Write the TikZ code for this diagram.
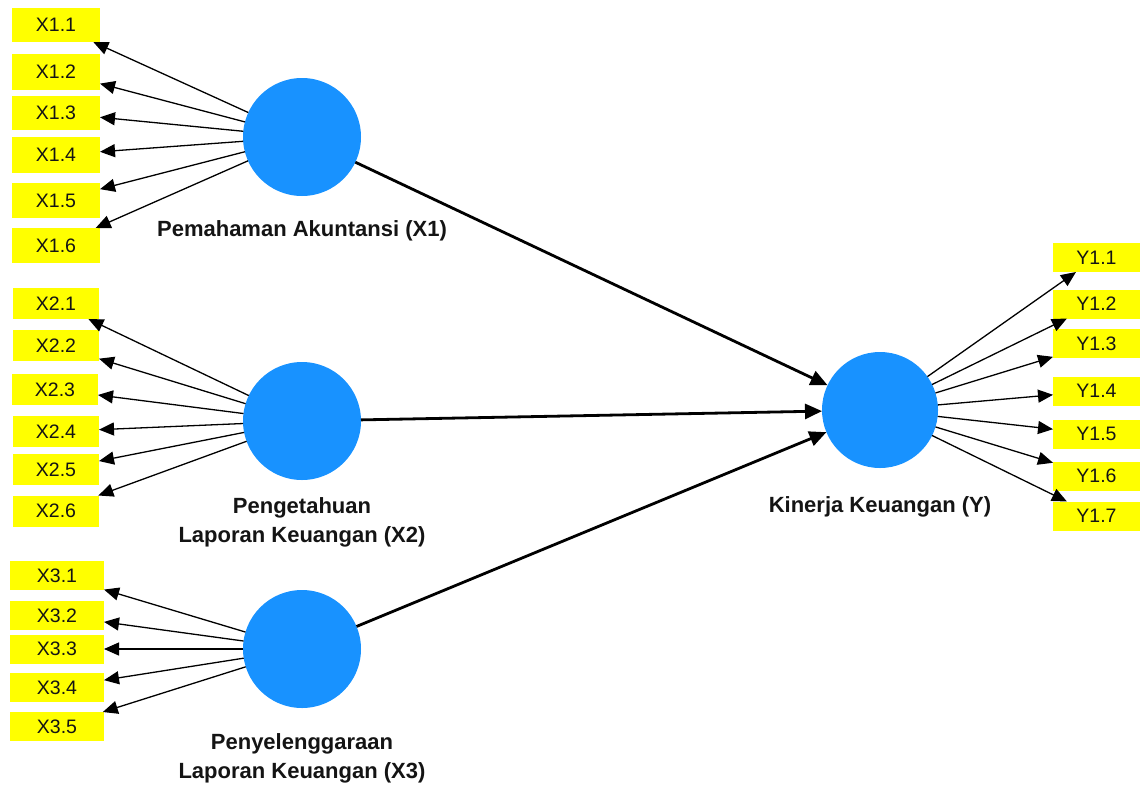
\documentclass[tikz,border=0pt]{standalone}
\usepackage{fontspec}
\setmainfont{Liberation Sans}
\usetikzlibrary{arrows.meta}
\definecolor{latentblue}{RGB}{24,146,255}
\definecolor{itemyellow}{RGB}{255,255,0}
\definecolor{inktext}{RGB}{20,20,20}
\begin{document}
\begin{tikzpicture}[x=1pt,y=-1pt,
  latentnode/.style={circle, fill=latentblue, minimum size=118pt, inner sep=0pt, outer sep=0pt},
  itembox/.style={rectangle, fill=itemyellow, inner sep=0pt, outer sep=0pt,
    text=inktext, font=\fontsize{19.5}{22}\selectfont},
  xbox/.style={itembox, minimum width=88pt},
  loading/.style={draw=black, line width=1.3pt, -{Triangle[length=15pt,width=13pt]}},
  structural/.style={draw=black, line width=2.8pt, -{Triangle[length=17pt,width=15pt]}},
  lbl/.style={font=\bfseries\fontsize{22}{29}\selectfont, align=center, text=inktext, inner sep=0pt}
]
\useasboundingbox[fill=white] (0,0) rectangle (1140,785);

% latent constructs
\node[latentnode] (X1) at (302,137) {};
\node[latentnode] (X2) at (302,421) {};
\node[latentnode] (X3) at (302,649) {};
\node[latentnode, minimum size=116pt] (Y) at (880,410) {};

% construct labels
\node[lbl, anchor=base] (lX1) at (302,236) {Pemahaman Akuntansi (X1)};
\node[lbl] (lX2) at (302,522) {Pengetahuan\\Laporan Keuangan (X2)};
\node[lbl] (lX3) at (302,758) {Penyelenggaraan\\Laporan Keuangan (X3)};
\node[lbl, anchor=base] (lY) at (880,512) {Kinerja Keuangan (Y)};

% indicators of X1
\node[xbox, minimum height=34pt] (x11) at (56,25) {X1.1};
\node[xbox, minimum height=36pt] (x12) at (56,72) {X1.2};
\node[xbox, minimum height=34pt] (x13) at (56,113) {X1.3};
\node[xbox, minimum height=36pt] (x14) at (56,155) {X1.4};
\node[xbox, minimum height=35pt] (x15) at (56,200.5) {X1.5};
\node[xbox, minimum height=35pt] (x16) at (56,245.5) {X1.6};

% indicators of X2
\node[itembox, minimum width=86pt, minimum height=31pt] (x21) at (56,303.5) {X2.1};
\node[itembox, minimum width=86pt, minimum height=31pt] (x22) at (56,345.5) {X2.2};
\node[itembox, minimum width=86pt, minimum height=31pt] (x23) at (55,389.5) {X2.3};
\node[itembox, minimum width=86pt, minimum height=31pt] (x24) at (56,431.5) {X2.4};
\node[itembox, minimum width=86pt, minimum height=31pt] (x25) at (56,469.5) {X2.5};
\node[itembox, minimum width=86pt, minimum height=31pt] (x26) at (56,511) {X2.6};

% indicators of X3
\node[itembox, minimum width=94pt, minimum height=29pt] (x31) at (57,575.5) {X3.1};
\node[itembox, minimum width=94pt, minimum height=29pt] (x32) at (57,615.5) {X3.2};
\node[itembox, minimum width=94pt, minimum height=29pt] (x33) at (57,649) {X3.3};
\node[itembox, minimum width=94pt, minimum height=29pt] (x34) at (57,687.5) {X3.4};
\node[itembox, minimum width=94pt, minimum height=29pt] (x35) at (57,726.5) {X3.5};

% indicators of Y
\node[itembox, minimum width=87pt, minimum height=29pt] (y1) at (1096.5,257.5) {Y1.1};
\node[itembox, minimum width=87pt, minimum height=29pt] (y2) at (1096.5,304) {Y1.2};
\node[itembox, minimum width=87pt, minimum height=29pt] (y3) at (1096.5,343.5) {Y1.3};
\node[itembox, minimum width=87pt, minimum height=29pt] (y4) at (1096.5,391) {Y1.4};
\node[itembox, minimum width=87pt, minimum height=29pt] (y5) at (1096.5,434) {Y1.5};
\node[itembox, minimum width=87pt, minimum height=29pt] (y6) at (1096.5,476) {Y1.6};
\node[itembox, minimum width=87pt, minimum height=29pt] (y7) at (1096.5,516) {Y1.7};

% outer loadings
\foreach \i in {x11,x12,x13,x14,x15,x16} \draw[loading] (X1) -- (\i);
\foreach \i in {x21,x22,x23,x24,x25,x26} \draw[loading] (X2) -- (\i);
\foreach \i in {x31,x32,x33,x34,x35} \draw[loading] (X3) -- (\i);
\foreach \i in {y1,y2,y3,y4,y5,y6,y7} \draw[loading] (Y) -- (\i);

% structural paths
\draw[structural] (X1) -- (Y);
\draw[structural] (X2) -- (Y);
\draw[structural] (X3) -- (Y);
\end{tikzpicture}
\end{document}
